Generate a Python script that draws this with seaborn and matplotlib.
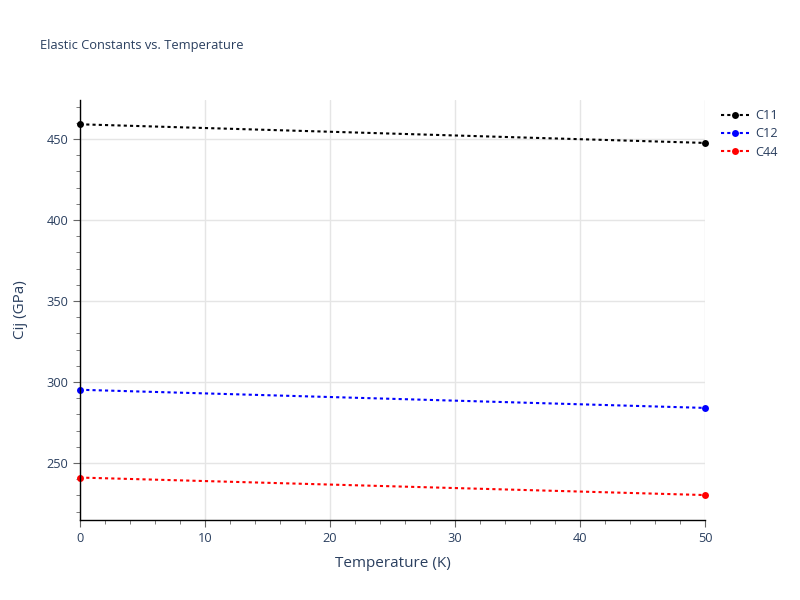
import pandas as pd
import matplotlib.pyplot as plt
import seaborn as sns
from matplotlib.ticker import MultipleLocator

# Dane
temperature = [0, 50]
c11 = [459.1, 447.6]
c12 = [295.2, 284.0]
c44 = [241.0, 230.2]
names = ["C11", "C12", "C44"]
colors = ["black", "blue", "red"]

df = pd.DataFrame({
    "Temperature (K)": temperature * 3,
    "Cij (GPa)": c11 + c12 + c44,
    "Constant": [n for n in names for _ in temperature],
})

sns.set_style("white")
plt.rcParams["font.family"] = ["Open Sans", "DejaVu Sans"]
text_color = "#2a3f5f"

fig = plt.figure(figsize=(8, 6), dpi=100)
ax = fig.add_axes([80 / 800, 1 - 520 / 600, 625 / 800, 420 / 600])

sns.lineplot(data=df, x="Temperature (K)", y="Cij (GPa)", hue="Constant",
             palette=dict(zip(names, colors)), marker="o", markersize=5,
             markeredgewidth=0, linewidth=1.5, dashes=False, ax=ax, legend=False)
for line in ax.get_lines():
    line.set_linestyle((0, (1.5, 1.5)))
    line.set_clip_on(False)

ax.set_xlim(0, 50)
ax.set_ylim(214.8, 474.1)
ax.xaxis.set_major_locator(MultipleLocator(10))
ax.xaxis.set_minor_locator(MultipleLocator(2))
ax.yaxis.set_major_locator(MultipleLocator(50))
ax.yaxis.set_minor_locator(MultipleLocator(10))
ax.grid(True, which="major", color="#e5e5e5", linewidth=1)
ax.set_axisbelow(True)

for side in ["top", "right"]:
    ax.spines[side].set_visible(False)
for side in ["left", "bottom"]:
    ax.spines[side].set_color("black")
    ax.spines[side].set_linewidth(1)

ax.tick_params(which="major", direction="out", length=5, color="#666666",
               labelsize=9.2, labelcolor=text_color, left=True, bottom=True)
ax.tick_params(which="minor", direction="out", length=3, color="#666666",
               left=True, bottom=True)

ax.set_xlabel("Temperature (K)", fontsize=11, color=text_color, labelpad=8)
ax.set_ylabel("Cij (GPa)", fontsize=11, color=text_color, labelpad=13)
fig.text(40 / 800, 1 - 46 / 600, "Elastic Constants vs. Temperature",
         fontsize=9.3, color=text_color, va="center", ha="left")

handles = [plt.Line2D([], [], color=c, linestyle=(0, (1.5, 1.5)), linewidth=1.5,
                      marker="o", markersize=5, markeredgewidth=0) for c in colors]
leg = fig.legend(handles, names, loc="upper left",
                 bbox_to_anchor=(716 / 800, 1 - 104 / 600), frameon=False,
                 fontsize=9.2, handlelength=2.2, handletextpad=0.5,
                 labelspacing=0.42, borderaxespad=0)
for t in leg.get_texts():
    t.set_color(text_color)

fig.savefig("out.png", dpi=100)
